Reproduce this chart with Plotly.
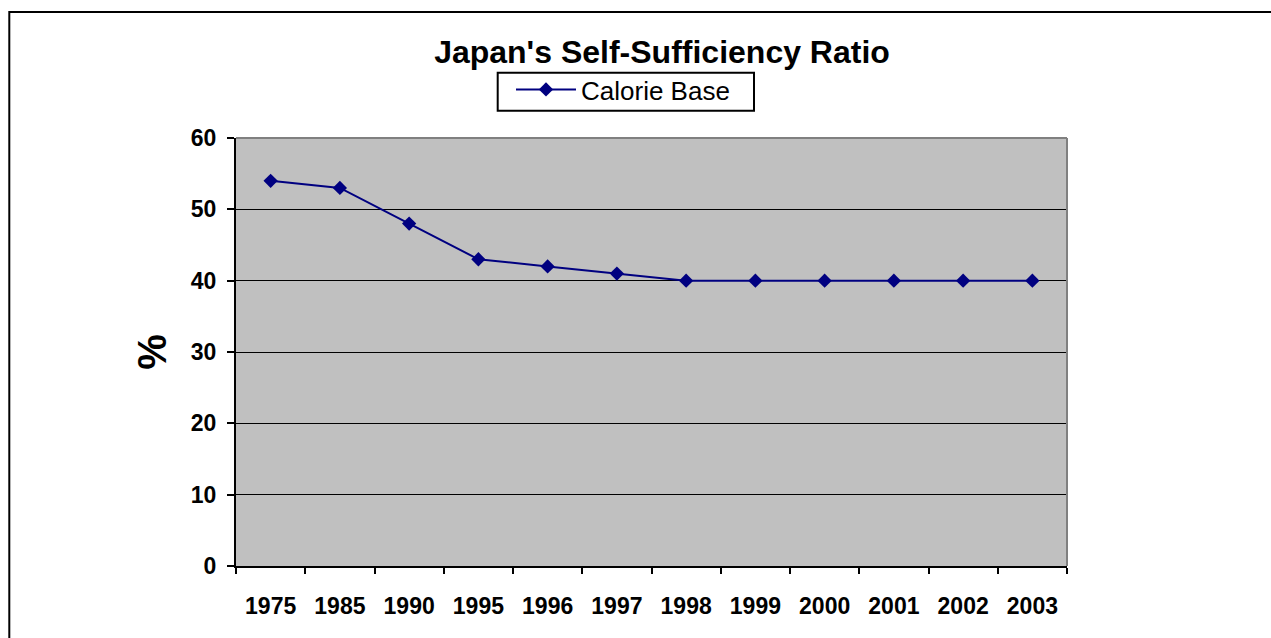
import plotly.graph_objects as go

years = ["1975", "1985", "1990", "1995", "1996", "1997", "1998", "1999", "2000", "2001", "2002", "2003"]
calorie_base = [54, 53, 48, 43, 42, 41, 40, 40, 40, 40, 40, 40]
y_ticks = [0, 10, 20, 30, 40, 50, 60]

FONT = "Arial, 'Liberation Sans', sans-serif"

fig = go.Figure()
fig.add_trace(go.Scatter(
    x=years, y=calorie_base, mode="lines+markers", name="Calorie Base",
    line=dict(color="#000080", width=2),
    marker=dict(symbol="diamond", size=11, color="#000080"),
))

fig.update_layout(
    width=1271, height=638,
    margin=dict(l=236, r=204, t=138, b=72),
    paper_bgcolor="white", plot_bgcolor="#C0C0C0",
    font=dict(family=FONT, color="black"),
    title=dict(text="Japan's Self-Sufficiency Ratio", x=662/1271, xanchor="center",
               xref="container", yref="container",
               y=1-52/638, yanchor="middle",
               font=dict(size=32, weight="bold", family=FONT)),
    showlegend=True,
    legend=dict(x=(511-236)/831, y=1+(138-66)/428, xanchor="left", yanchor="top",
                borderwidth=0, bgcolor="rgba(0,0,0,0)",
                font=dict(size=26, family=FONT), itemwidth=60),
    xaxis=dict(type="category", range=[-0.5, 11.5], showgrid=False,
               showline=True, linecolor="black", linewidth=2,
               ticks="outside", tickson="boundaries", ticklen=6, tickwidth=2, tickcolor="black",
               tickfont=dict(size=23, weight="bold", family=FONT),
               ticklabelstandoff=18),
    yaxis=dict(range=[0, 60], tickvals=y_ticks, showgrid=True, gridcolor="black", gridwidth=1,
               zeroline=False, showline=True, linecolor="black", linewidth=2,
               ticks="outside", ticklen=7, tickwidth=2, tickcolor="black",
               tickfont=dict(size=23, weight="bold", family=FONT),
               ticklabelstandoff=6,
               title=dict(text="%", font=dict(size=40, weight="bold", family=FONT), standoff=12)),
    shapes=[
        dict(type="line", xref="paper", yref="paper", x0=0, x1=1, y0=1, y1=1,
             line=dict(color="#808080", width=2), layer="above"),
        dict(type="line", xref="paper", yref="paper", x0=1, x1=1, y0=0, y1=1,
             line=dict(color="#808080", width=2), layer="above"),
        dict(type="rect", xref="paper", yref="paper",
             x0=(9.3-236)/831, x1=1.4, y0=-0.3, y1=1+(138-12)/428,
             line=dict(color="black", width=2), fillcolor="rgba(0,0,0,0)", layer="below"),
        dict(type="rect", xref="paper", yref="paper",
             x0=(497.7-236)/831, x1=(754-236)/831,
             y0=1+(138-110.7)/428, y1=1+(138-72.7)/428,
             line=dict(color="black", width=2), fillcolor="white", layer="below"),
    ],
)

fig.write_html("out.html")
